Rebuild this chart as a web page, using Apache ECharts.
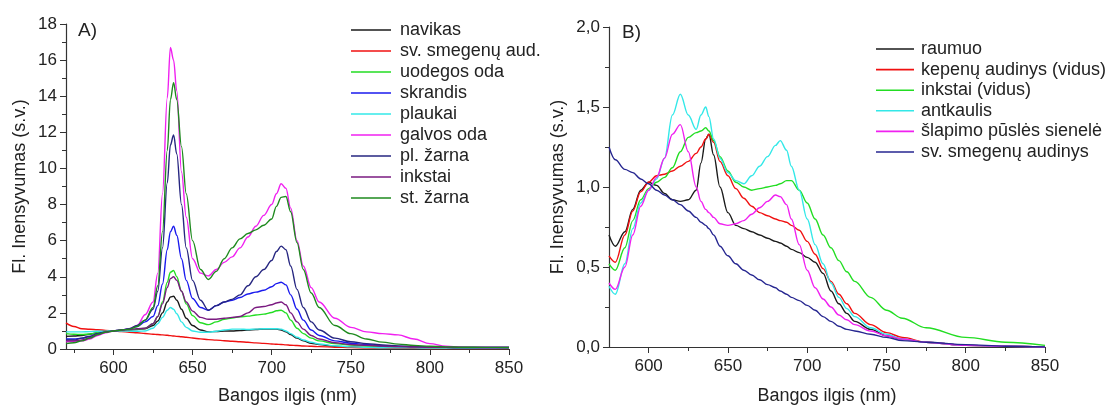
<!DOCTYPE html>
<html><head><meta charset="utf-8">
<script src="https://cdn.jsdelivr.net/npm/echarts@6/dist/echarts.min.js"></script>
<style>html,body{margin:0;padding:0;background:#fff}#c{width:1110px;height:410px}</style>
</head><body><div id="c"></div>
<script>
// ---------- Panel A data ----------
const wlA = [570,575,580,585,590,595,600,605,610,615,620,625,628,631,634,636,638,640,643,646,650,655,660,665,670,675,680,685,690,695,700,703,706,709,712,716,720,725,730,740,750,760,770,780,790,800,810,820,835,850];
const navikas = [0.70,0.72,0.75,0.82,0.90,0.96,1.00,1.02,1.05,1.08,1.12,1.30,1.55,2.00,2.60,2.88,2.92,2.70,2.20,1.70,1.30,1.05,0.95,0.97,1.00,1.00,1.02,1.05,1.08,1.10,1.10,1.10,1.05,0.95,0.80,0.60,0.45,0.32,0.24,0.15,0.11,0.08,0.07,0.06,0.06,0.05,0.05,0.05,0.05,0.05];
const svSmegenuAud = [1.45,1.25,1.12,1.09,1.07,1.03,1.00,0.97,0.93,0.90,0.86,0.82,0.80,0.78,0.76,0.74,0.72,0.70,0.68,0.65,0.61,0.56,0.52,0.49,0.46,0.43,0.40,0.37,0.34,0.31,0.28,0.26,0.25,0.23,0.21,0.19,0.17,0.15,0.13,0.10,0.08,0.06,0.05,0.04,0.04,0.03,0.03,0.03,0.03,0.03];
const uodegosOda = [0.85,0.82,0.80,0.83,0.90,0.96,1.00,1.03,1.07,1.10,1.15,1.40,1.80,2.60,3.70,4.25,4.35,4.00,3.20,2.50,1.85,1.45,1.35,1.50,1.65,1.72,1.78,1.82,1.88,1.93,2.02,2.12,2.15,2.00,1.60,1.15,0.85,0.60,0.45,0.30,0.22,0.17,0.14,0.12,0.10,0.09,0.08,0.07,0.07,0.07];
const skrandis = [0.55,0.55,0.60,0.70,0.85,0.95,1.00,1.05,1.12,1.25,1.50,1.80,2.40,3.60,5.50,6.50,6.80,6.30,5.00,3.80,2.80,2.30,2.15,2.40,2.60,2.70,2.85,3.05,3.15,3.25,3.45,3.62,3.70,3.55,3.00,2.20,1.60,1.05,0.75,0.45,0.32,0.25,0.18,0.14,0.12,0.10,0.09,0.08,0.08,0.08];
const plaukai = [0.95,0.95,0.95,0.96,0.98,0.99,1.00,1.00,0.99,0.98,1.00,1.15,1.40,1.75,2.15,2.30,2.20,1.95,1.50,1.20,1.00,0.93,0.93,0.98,1.05,1.10,1.10,1.08,1.10,1.12,1.12,1.12,1.10,1.00,0.85,0.65,0.50,0.37,0.28,0.18,0.12,0.09,0.07,0.06,0.06,0.05,0.05,0.05,0.05,0.05];
const galvosOda = [0.40,0.42,0.45,0.55,0.75,0.90,1.00,1.05,1.12,1.30,1.90,2.60,4.20,8.60,13.90,16.70,16.00,14.30,9.80,7.30,5.00,4.20,4.05,4.40,4.80,5.10,5.60,6.20,6.80,7.40,8.00,8.60,9.15,8.90,7.80,6.00,4.60,3.40,2.60,1.70,1.20,0.95,0.85,0.78,0.55,0.30,0.15,0.10,0.08,0.08];
const plZarna = [0.50,0.50,0.60,0.70,0.85,0.95,1.00,1.05,1.12,1.30,1.60,2.20,3.20,5.60,9.20,11.30,11.85,10.80,8.00,5.60,3.80,2.70,2.15,2.40,2.60,2.75,3.00,3.50,4.00,4.40,4.90,5.40,5.70,5.50,4.60,3.30,2.30,1.50,1.05,0.60,0.40,0.30,0.22,0.17,0.13,0.10,0.09,0.08,0.08,0.08];
const inkstai = [0.45,0.45,0.50,0.62,0.80,0.93,1.00,1.04,1.08,1.12,1.15,1.40,1.80,2.50,3.40,3.90,4.00,3.80,3.20,2.60,2.10,1.75,1.65,1.65,1.70,1.75,1.80,2.00,2.30,2.35,2.45,2.55,2.60,2.45,2.00,1.50,1.10,0.75,0.55,0.35,0.25,0.20,0.16,0.13,0.11,0.10,0.09,0.08,0.08,0.08];
const stZarna = [0.30,0.35,0.45,0.60,0.80,0.93,1.00,1.05,1.10,1.25,1.60,2.30,3.50,6.50,11.00,13.80,14.75,13.80,11.20,8.60,6.00,4.40,3.85,4.30,5.00,5.60,6.10,6.40,6.60,6.85,7.20,7.90,8.40,8.45,7.60,5.90,4.40,3.10,2.30,1.30,0.85,0.55,0.38,0.27,0.20,0.15,0.12,0.10,0.09,0.08];
const namesA = ['navikas','sv. smegenų aud.','uodegos oda','skrandis','plaukai','galvos oda','pl. žarna','inkstai','st. žarna'];
const valsA = [navikas,svSmegenuAud,uodegosOda,skrandis,plaukai,galvosOda,plZarna,inkstai,stZarna];
const colorsA = ['#1a1a1a','#f01010','#22dd22','#1a1aee','#33e8e8','#f020f0','#262680','#7a1a80','#1e8a1e'];
const xLabelsA = [600,650,700,750,800,850];
const xMinorA = [575,625,675,725,775,825];

// ---------- Panel B data ----------
const wlB = [575,579,585,590,595,600,605,610,615,620,625,630,633,636,638,641,645,650,655,660,665,670,675,680,683,687,690,695,700,705,710,715,720,725,730,740,750,760,775,800,825,850];
const raumuo = [0.70,0.63,0.72,0.86,0.98,1.03,1.01,0.96,0.92,0.91,0.92,0.98,1.15,1.30,1.33,1.20,1.00,0.84,0.76,0.74,0.72,0.70,0.68,0.66,0.65,0.63,0.61,0.59,0.56,0.53,0.46,0.35,0.27,0.21,0.16,0.11,0.07,0.05,0.03,0.01,0.005,0.0];
const kepenu = [0.57,0.53,0.70,0.85,0.97,1.03,1.07,1.08,1.10,1.13,1.16,1.21,1.25,1.30,1.33,1.28,1.16,1.07,0.99,0.93,0.88,0.84,0.82,0.80,0.79,0.78,0.76,0.73,0.66,0.58,0.49,0.41,0.33,0.27,0.21,0.14,0.09,0.06,0.03,0.01,0.005,0.0];
const inkstaiVidus = [0.52,0.48,0.62,0.79,0.92,0.99,1.03,1.06,1.12,1.22,1.31,1.34,1.35,1.37,1.35,1.29,1.19,1.10,1.03,1.00,0.98,0.99,1.00,1.01,1.02,1.04,1.04,0.98,0.90,0.80,0.70,0.62,0.54,0.47,0.41,0.31,0.23,0.18,0.12,0.06,0.03,0.01];
const antkaulis = [0.38,0.33,0.52,0.74,0.90,0.98,1.05,1.18,1.45,1.58,1.45,1.36,1.45,1.50,1.44,1.30,1.18,1.09,1.04,1.02,1.07,1.13,1.19,1.26,1.29,1.23,1.13,0.98,0.80,0.64,0.52,0.40,0.31,0.24,0.19,0.12,0.08,0.05,0.03,0.01,0.005,0.0];
const slapimo = [0.40,0.36,0.50,0.70,0.88,0.98,1.06,1.18,1.33,1.39,1.22,1.00,0.91,0.86,0.84,0.81,0.77,0.76,0.77,0.79,0.83,0.87,0.91,0.95,0.94,0.89,0.80,0.64,0.48,0.37,0.30,0.25,0.20,0.17,0.14,0.10,0.07,0.05,0.03,0.01,0.005,0.0];
const svSmegenuAudinys = [1.25,1.17,1.11,1.09,1.05,1.02,0.98,0.95,0.92,0.89,0.85,0.81,0.78,0.76,0.74,0.70,0.63,0.57,0.52,0.48,0.45,0.42,0.39,0.37,0.35,0.33,0.31,0.29,0.26,0.23,0.19,0.16,0.13,0.11,0.10,0.08,0.06,0.04,0.03,0.015,0.005,0.0];
const namesB = ['raumuo','kepenų audinys (vidus)','inkstai (vidus)','antkaulis','šlapimo pūslės sienelė','sv. smegenų audinys'];
const valsB = [raumuo,kepenu,inkstaiVidus,antkaulis,slapimo,svSmegenuAudinys];
const colorsB = ['#1a1a1a','#f01010','#22dd22','#33e8e8','#f020f0','#262690'];
const xLabelsB = [600,650,700,750,800,850];
const xMinorB = [625,675,725,775,825];

const FONT = '"Liberation Sans", Arial, sans-serif';
const TXT = '#222';
const AX = '#333';

function mkSeries(names, vals, wl, colors, xi, yi) {
  return names.map((n, k) => ({
    name: n, type: 'line', xAxisIndex: xi, yAxisIndex: yi,
    data: wl.map((w, i) => [w, vals[k][i]]),
    symbol: 'none', smooth: 0.35, smoothMonotone: 'x',
    lineStyle: { width: 1.4, color: colors[k] }, itemStyle: { color: colors[k] },
    animation: false
  }));
}

function xMain(grid, min, labels) {
  return {
    type: 'value', gridIndex: grid, min: min, max: 850,
    name: 'Bangos ilgis (nm)', nameLocation: 'middle', nameGap: 38,
    nameTextStyle: { fontSize: 18, color: TXT, fontFamily: FONT },
    axisLine: { show: true, lineStyle: { color: AX, width: 1.2 } },
    axisTick: { show: true, length: 6, customValues: labels, lineStyle: { color: AX } },
    axisLabel: { customValues: labels, fontSize: 17, color: TXT, fontFamily: FONT, margin: 11 },
    splitLine: { show: false }
  };
}
function xMinor(grid, min, vals) {
  return {
    type: 'value', gridIndex: grid, min: min, max: 850, position: 'bottom',
    axisLine: { show: false },
    axisTick: { show: true, length: 4, customValues: vals, lineStyle: { color: AX } },
    axisLabel: { show: false }, splitLine: { show: false }
  };
}

const chart = echarts.init(document.getElementById('c'), null, { renderer: 'canvas' });
chart.setOption({
  backgroundColor: '#fff',
  animation: false,
  textStyle: { fontFamily: FONT },
  grid: [
    { left: 66, right: 601, top: 24, bottom: 56 },
    { left: 609, right: 65, top: 27, bottom: 58 }
  ],
  xAxis: [
    xMain(0, 570, xLabelsA),
    xMinor(0, 570, xMinorA),
    Object.assign(xMain(1, 575, xLabelsB), { nameGap: 40 }),
    xMinor(1, 575, xMinorB)
  ],
  yAxis: [
    {
      type: 'value', gridIndex: 0, min: 0, max: 18, interval: 2,
      name: 'Fl. Inensyvumas (s.v.)', nameLocation: 'middle', nameGap: 37,
      nameTextStyle: { fontSize: 18, color: TXT, fontFamily: FONT },
      axisLine: { show: true, lineStyle: { color: AX, width: 1.2 } },
      axisTick: { show: true, length: 6, lineStyle: { color: AX } },
      minorTick: { show: true, splitNumber: 2, length: 4, lineStyle: { color: AX } },
      axisLabel: { fontSize: 17, color: TXT, fontFamily: FONT, margin: 9 },
      splitLine: { show: false }
    },
    {
      type: 'value', gridIndex: 1, min: 0, max: 2, interval: 0.5,
      name: 'Fl. Inensyvumas (s.v.)', nameLocation: 'middle', nameGap: 42,
      nameTextStyle: { fontSize: 18, color: TXT, fontFamily: FONT },
      axisLine: { show: true, lineStyle: { color: AX, width: 1.2 } },
      axisTick: { show: true, length: 6, lineStyle: { color: AX } },
      minorTick: { show: true, splitNumber: 2, length: 4, lineStyle: { color: AX } },
      axisLabel: { fontSize: 17, color: TXT, fontFamily: FONT, margin: 9,
        formatter: v => v.toFixed(1).replace('.', ',') },
      splitLine: { show: false }
    }
  ],
  legend: [
    {
      data: namesA, orient: 'vertical', left: 346, top: 16,
      icon: 'rect', itemWidth: 40, itemHeight: 1.6, itemGap: 3,
      textStyle: { fontSize: 18, lineHeight: 18, color: TXT, fontFamily: FONT, padding: [0,0,0,4] },
      selectedMode: false
    },
    {
      data: namesB, orient: 'vertical', left: 871, top: 35,
      icon: 'rect', itemWidth: 38, itemHeight: 1.6, itemGap: 2.6,
      textStyle: { fontSize: 18, lineHeight: 18, color: TXT, fontFamily: FONT, padding: [0,0,0,2] },
      selectedMode: false
    }
  ],
  graphic: [
    { type: 'text', left: 78, top: 21, style: { text: 'A)', font: '19px ' + FONT, fill: TXT } },
    { type: 'text', left: 622, top: 23, style: { text: 'B)', font: '19px ' + FONT, fill: TXT } }
  ],
  series: [].concat(
    mkSeries(namesA, valsA, wlA, colorsA, 0, 0),
    mkSeries(namesB, valsB, wlB, colorsB, 2, 1)
  )
});
</script>
</body></html>
